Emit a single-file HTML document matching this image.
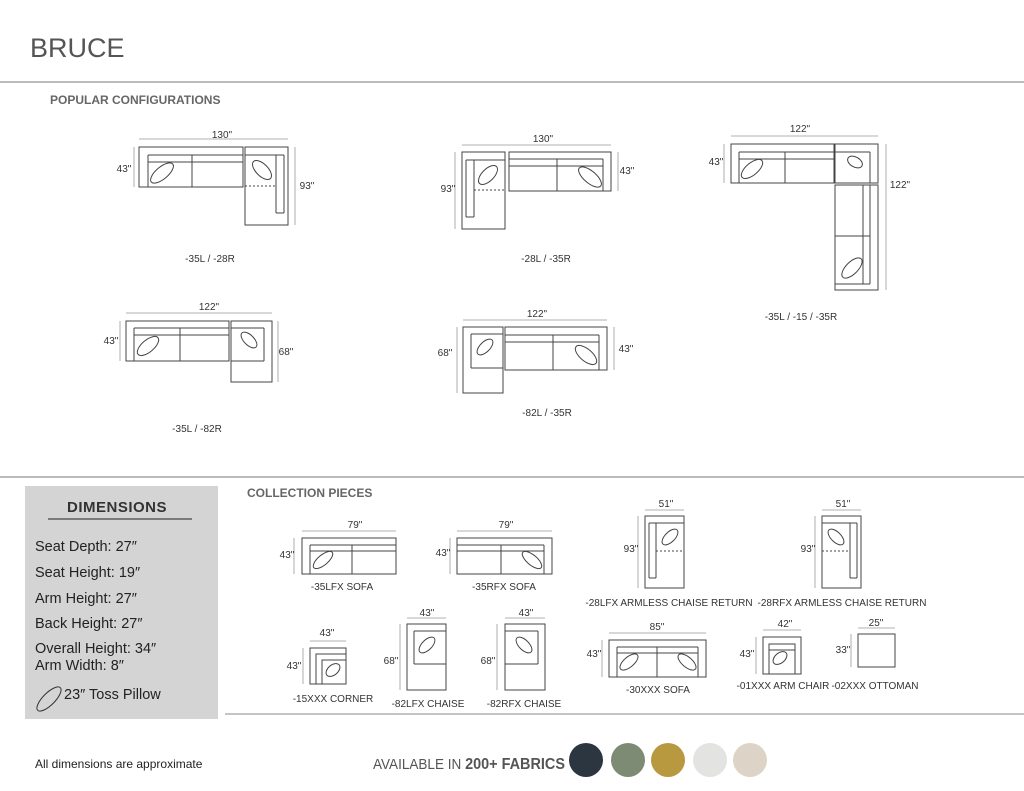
<!DOCTYPE html>
<html><head><meta charset="utf-8"><style>
body{margin:0;background:#fff;width:1024px;height:791px;overflow:hidden}
svg{position:absolute;left:0;top:0}
text{font-family:"Liberation Sans",sans-serif;fill:#333}
.d{font-size:10px;text-anchor:middle}
.l{font-size:10px;text-anchor:middle}
.s{fill:none;stroke:#444;stroke-width:1}
.dl{stroke:#999;stroke-width:.8;fill:none}
.dim{font-size:14.5px;fill:#222}
</style></head><body>
<svg width="1024" height="791" viewBox="0 0 1024 791">
<text x="30" y="57" style="font-size:27px;fill:#555">BRUCE</text>
<line x1="0" y1="82" x2="1024" y2="82" stroke="#777" stroke-width="1"/>
<text x="50" y="104" style="font-size:12px;font-weight:bold;fill:#666">POPULAR CONFIGURATIONS</text>

<!-- config 1 -->
<g class="s">
<rect x="139" y="147" width="104" height="40"/><line x1="148" y1="155" x2="243" y2="155"/><line x1="148" y1="162" x2="243" y2="162"/><line x1="148" y1="155" x2="148" y2="187"/><line x1="192" y1="155" x2="192" y2="187"/>
<ellipse cx="162" cy="173" rx="14" ry="6" transform="rotate(-40 162 173)"/>
<rect x="245" y="147" width="43" height="78"/><line x1="245" y1="155" x2="284" y2="155"/><line x1="276" y1="155" x2="276" y2="213"/><line x1="284" y1="155" x2="284" y2="213"/><line x1="276" y1="213" x2="284" y2="213"/><line x1="245" y1="186" x2="276" y2="186" stroke-dasharray="2 2"/>
<ellipse cx="262" cy="170" rx="12" ry="6" transform="rotate(45 262 170)"/>
</g>
<path class="dl" d="M139 139H288M134 147V187M295 147V225"/>
<text class="d" x="222" y="138">130"</text><text class="d" x="124" y="172">43"</text><text class="d" x="307" y="189">93"</text>
<text class="l" x="210" y="262">-35L / -28R</text>

<!-- config 2 -->
<g class="s">
<rect x="462" y="152" width="43" height="77"/><line x1="466" y1="160" x2="505" y2="160"/><line x1="466" y1="160" x2="466" y2="217"/><line x1="474" y1="160" x2="474" y2="217"/><line x1="466" y1="217" x2="474" y2="217"/><line x1="474" y1="190" x2="505" y2="190" stroke-dasharray="2 2"/>
<ellipse cx="488" cy="175" rx="12" ry="6" transform="rotate(-45 488 175)"/>
<rect x="509" y="152" width="102" height="39"/><line x1="509" y1="159" x2="603" y2="159"/><line x1="509" y1="166" x2="603" y2="166"/><line x1="603" y1="159" x2="603" y2="191"/><line x1="557" y1="159" x2="557" y2="191"/>
<ellipse cx="590" cy="177" rx="14" ry="6" transform="rotate(40 590 177)"/>
</g>
<path class="dl" d="M462 145H611M455 152V229M618 152V191"/>
<text class="d" x="543" y="142">130"</text><text class="d" x="448" y="192">93"</text><text class="d" x="627" y="174">43"</text>
<text class="l" x="546" y="262">-28L / -35R</text>

<!-- config 3 -->
<g class="s">
<rect x="731" y="144" width="103" height="39"/><line x1="739" y1="152" x2="834" y2="152"/><line x1="739" y1="159" x2="834" y2="159"/><line x1="739" y1="152" x2="739" y2="183"/><line x1="785" y1="152" x2="785" y2="183"/>
<ellipse cx="752" cy="169" rx="13" ry="6" transform="rotate(-40 752 169)"/>
<rect x="835" y="144" width="43" height="39"/><line x1="835" y1="152" x2="870" y2="152"/><line x1="870" y1="152" x2="870" y2="183"/>
<ellipse cx="855" cy="162" rx="8" ry="5" transform="rotate(30 855 162)"/>
<rect x="835" y="185" width="43" height="105"/><line x1="870" y1="185" x2="870" y2="284"/><line x1="863" y1="185" x2="863" y2="284"/><line x1="835" y1="236" x2="870" y2="236"/><line x1="835" y1="284" x2="870" y2="284"/>
<ellipse cx="852" cy="268" rx="13" ry="6" transform="rotate(-45 852 268)"/>
</g>
<path class="dl" d="M731 136H878M724 144V183M886 144V290"/>
<text class="d" x="800" y="132">122"</text><text class="d" x="716" y="165">43"</text><text class="d" x="900" y="188">122"</text>
<text class="l" x="801" y="320">-35L / -15 / -35R</text>

<!-- config 4 -->
<g class="s">
<rect x="126" y="321" width="103" height="40"/><line x1="134" y1="328" x2="229" y2="328"/><line x1="134" y1="335" x2="229" y2="335"/><line x1="134" y1="328" x2="134" y2="361"/><line x1="180" y1="328" x2="180" y2="361"/>
<ellipse cx="148" cy="346" rx="13" ry="6" transform="rotate(-40 148 346)"/>
<rect x="231" y="321" width="41" height="61"/><line x1="231" y1="328" x2="264" y2="328"/><line x1="264" y1="328" x2="264" y2="361"/><line x1="231" y1="361" x2="264" y2="361"/>
<ellipse cx="249" cy="340" rx="10" ry="5" transform="rotate(45 249 340)"/>
</g>
<path class="dl" d="M126 313H272M120 321V361M278 321V382"/>
<text class="d" x="209" y="310">122"</text><text class="d" x="111" y="344">43"</text><text class="d" x="286" y="355">68"</text>
<text class="l" x="197" y="432">-35L / -82R</text>

<!-- config 5 -->
<g class="s">
<rect x="463" y="327" width="40" height="66"/><line x1="471" y1="334" x2="503" y2="334"/><line x1="471" y1="334" x2="471" y2="368"/><line x1="471" y1="368" x2="503" y2="368"/>
<ellipse cx="485" cy="347" rx="10" ry="5" transform="rotate(-45 485 347)"/>
<rect x="505" y="327" width="102" height="43"/><line x1="505" y1="335" x2="599" y2="335"/><line x1="505" y1="342" x2="599" y2="342"/><line x1="599" y1="335" x2="599" y2="370"/><line x1="553" y1="335" x2="553" y2="370"/>
<ellipse cx="586" cy="355" rx="13" ry="6" transform="rotate(40 586 355)"/>
</g>
<path class="dl" d="M463 320H607M457 327V393M614 327V370"/>
<text class="d" x="537" y="317">122"</text><text class="d" x="445" y="356">68"</text><text class="d" x="626" y="352">43"</text>
<text class="l" x="547" y="416">-82L / -35R</text>

<line x1="0" y1="477" x2="1024" y2="477" stroke="#777" stroke-width="1"/>

<!-- dimensions box -->
<rect x="25" y="486" width="193" height="233" fill="#d4d4d4"/>
<text x="117" y="512" style="font-size:15px;font-weight:bold;fill:#333;text-anchor:middle;letter-spacing:.5px">DIMENSIONS</text>
<line x1="48" y1="519" x2="192" y2="519" stroke="#222" stroke-width="1"/>
<text class="dim" x="35" y="551">Seat Depth: 27″</text>
<text class="dim" x="35" y="577">Seat Height: 19″</text>
<text class="dim" x="35" y="603">Arm Height: 27″</text>
<text class="dim" x="35" y="628">Back Height: 27″</text>
<text class="dim" x="35" y="653">Overall Height: 34″</text>
<text class="dim" x="35" y="670">Arm Width: 8″</text>
<ellipse cx="49" cy="699" rx="16" ry="6" transform="rotate(-45 49 699)" fill="none" stroke="#333"/>
<text class="dim" x="64" y="699">23″ Toss Pillow</text>
<text x="35" y="768" style="font-size:12px;fill:#222">All dimensions are approximate</text>

<text x="247" y="497" style="font-size:12px;font-weight:bold;fill:#666">COLLECTION PIECES</text>

<g class="s">
<rect x="302" y="538" width="94" height="36"/><line x1="310" y1="545" x2="396" y2="545"/><line x1="310" y1="551" x2="396" y2="551"/><line x1="310" y1="545" x2="310" y2="574"/><line x1="352" y1="545" x2="352" y2="574"/>
<ellipse cx="323" cy="560" rx="12" ry="5" transform="rotate(-40 323 560)"/>
<rect x="457" y="538" width="95" height="36"/><line x1="457" y1="545" x2="544" y2="545"/><line x1="457" y1="551" x2="544" y2="551"/><line x1="544" y1="545" x2="544" y2="574"/><line x1="501" y1="545" x2="501" y2="574"/>
<ellipse cx="532" cy="560" rx="12" ry="5" transform="rotate(40 532 560)"/>
<rect x="645" y="516" width="39" height="72"/><line x1="649" y1="523" x2="684" y2="523"/><line x1="649" y1="523" x2="649" y2="578"/><line x1="656" y1="523" x2="656" y2="578"/><line x1="649" y1="578" x2="656" y2="578"/><line x1="656" y1="551" x2="684" y2="551" stroke-dasharray="2 2"/>
<ellipse cx="670" cy="537" rx="10" ry="5" transform="rotate(-45 670 537)"/>
<rect x="822" y="516" width="39" height="72"/><line x1="822" y1="523" x2="857" y2="523"/><line x1="857" y1="523" x2="857" y2="578"/><line x1="850" y1="523" x2="850" y2="578"/><line x1="850" y1="578" x2="857" y2="578"/><line x1="822" y1="551" x2="850" y2="551" stroke-dasharray="2 2"/>
<ellipse cx="836" cy="537" rx="10" ry="5" transform="rotate(45 836 537)"/>
<rect x="310" y="648" width="36" height="36"/><path d="M316 684V654H346M322 684V660H346"/>
<ellipse cx="333" cy="670" rx="8" ry="5" transform="rotate(-40 333 670)"/>
<rect x="407" y="624" width="39" height="66"/><line x1="414" y1="631" x2="446" y2="631"/><line x1="414" y1="631" x2="414" y2="664"/><line x1="414" y1="664" x2="446" y2="664"/>
<ellipse cx="427" cy="645" rx="10" ry="5" transform="rotate(-45 427 645)"/>
<rect x="505" y="624" width="40" height="66"/><line x1="505" y1="631" x2="538" y2="631"/><line x1="538" y1="631" x2="538" y2="664"/><line x1="505" y1="664" x2="538" y2="664"/>
<ellipse cx="524" cy="645" rx="10" ry="5" transform="rotate(45 524 645)"/>
<rect x="609" y="640" width="97" height="37"/><line x1="617" y1="647" x2="698" y2="647"/><line x1="617" y1="653" x2="698" y2="653"/><line x1="617" y1="647" x2="617" y2="677"/><line x1="698" y1="647" x2="698" y2="677"/><line x1="657" y1="647" x2="657" y2="677"/>
<ellipse cx="629" cy="662" rx="11" ry="5" transform="rotate(-40 629 662)"/><ellipse cx="687" cy="662" rx="11" ry="5" transform="rotate(40 687 662)"/>
<rect x="763" y="637" width="38" height="37"/><path d="M769 674V644H795V674M769 650H795"/>
<ellipse cx="780" cy="658" rx="8" ry="5" transform="rotate(-40 780 658)"/>
<rect x="858" y="634" width="37" height="33"/>
</g>
<path class="dl" d="M302 531H396M294 538V574M457 531H552M450 538V574M645 510H684M638 516V588M822 510H861M815 516V588M310 641H346M303 648V684M407 618H446M400 624V690M505 618H545M497 624V690M609 633H706M602 640V677M763 630H801M756 637V674M858 628H895M851 634V667"/>
<text class="d" x="355" y="528">79"</text><text class="d" x="287" y="558">43"</text><text class="l" x="342" y="590">-35LFX SOFA</text>
<text class="d" x="506" y="528">79"</text><text class="d" x="443" y="556">43"</text><text class="l" x="504" y="590">-35RFX SOFA</text>
<text class="d" x="666" y="507">51"</text><text class="d" x="631" y="552">93"</text><text class="l" x="669" y="606">-28LFX ARMLESS CHAISE RETURN</text>
<text class="d" x="843" y="507">51"</text><text class="d" x="808" y="552">93"</text><text class="l" x="842" y="606">-28RFX ARMLESS CHAISE RETURN</text>
<text class="d" x="327" y="636">43"</text><text class="d" x="294" y="669">43"</text><text class="l" x="333" y="702">-15XXX CORNER</text>
<text class="d" x="427" y="616">43"</text><text class="d" x="391" y="664">68"</text><text class="l" x="428" y="707">-82LFX CHAISE</text>
<text class="d" x="526" y="616">43"</text><text class="d" x="488" y="664">68"</text><text class="l" x="524" y="707">-82RFX CHAISE</text>
<text class="d" x="657" y="630">85"</text><text class="d" x="594" y="657">43"</text><text class="l" x="658" y="693">-30XXX SOFA</text>
<text class="d" x="785" y="627">42"</text><text class="d" x="747" y="657">43"</text><text class="l" x="783" y="689">-01XXX ARM CHAIR</text>
<text class="d" x="876" y="626">25"</text><text class="d" x="843" y="653">33"</text><text class="l" x="875" y="689">-02XXX OTTOMAN</text>

<line x1="225" y1="714" x2="1024" y2="714" stroke="#888" stroke-width="1"/>

<text x="373" y="769" textLength="192" lengthAdjust="spacingAndGlyphs" style="font-size:15px;fill:#555">AVAILABLE IN <tspan style="font-weight:bold;font-size:16px">200+ FABRICS</tspan></text>
<circle cx="586" cy="760" r="17" fill="#2c3640"/>
<circle cx="628" cy="760" r="17" fill="#7e8b74"/>
<circle cx="668" cy="760" r="17" fill="#b8993f"/>
<circle cx="710" cy="760" r="17" fill="#e3e3e1"/>
<circle cx="750" cy="760" r="17" fill="#ddd3c6"/>
</svg>
</body></html>
